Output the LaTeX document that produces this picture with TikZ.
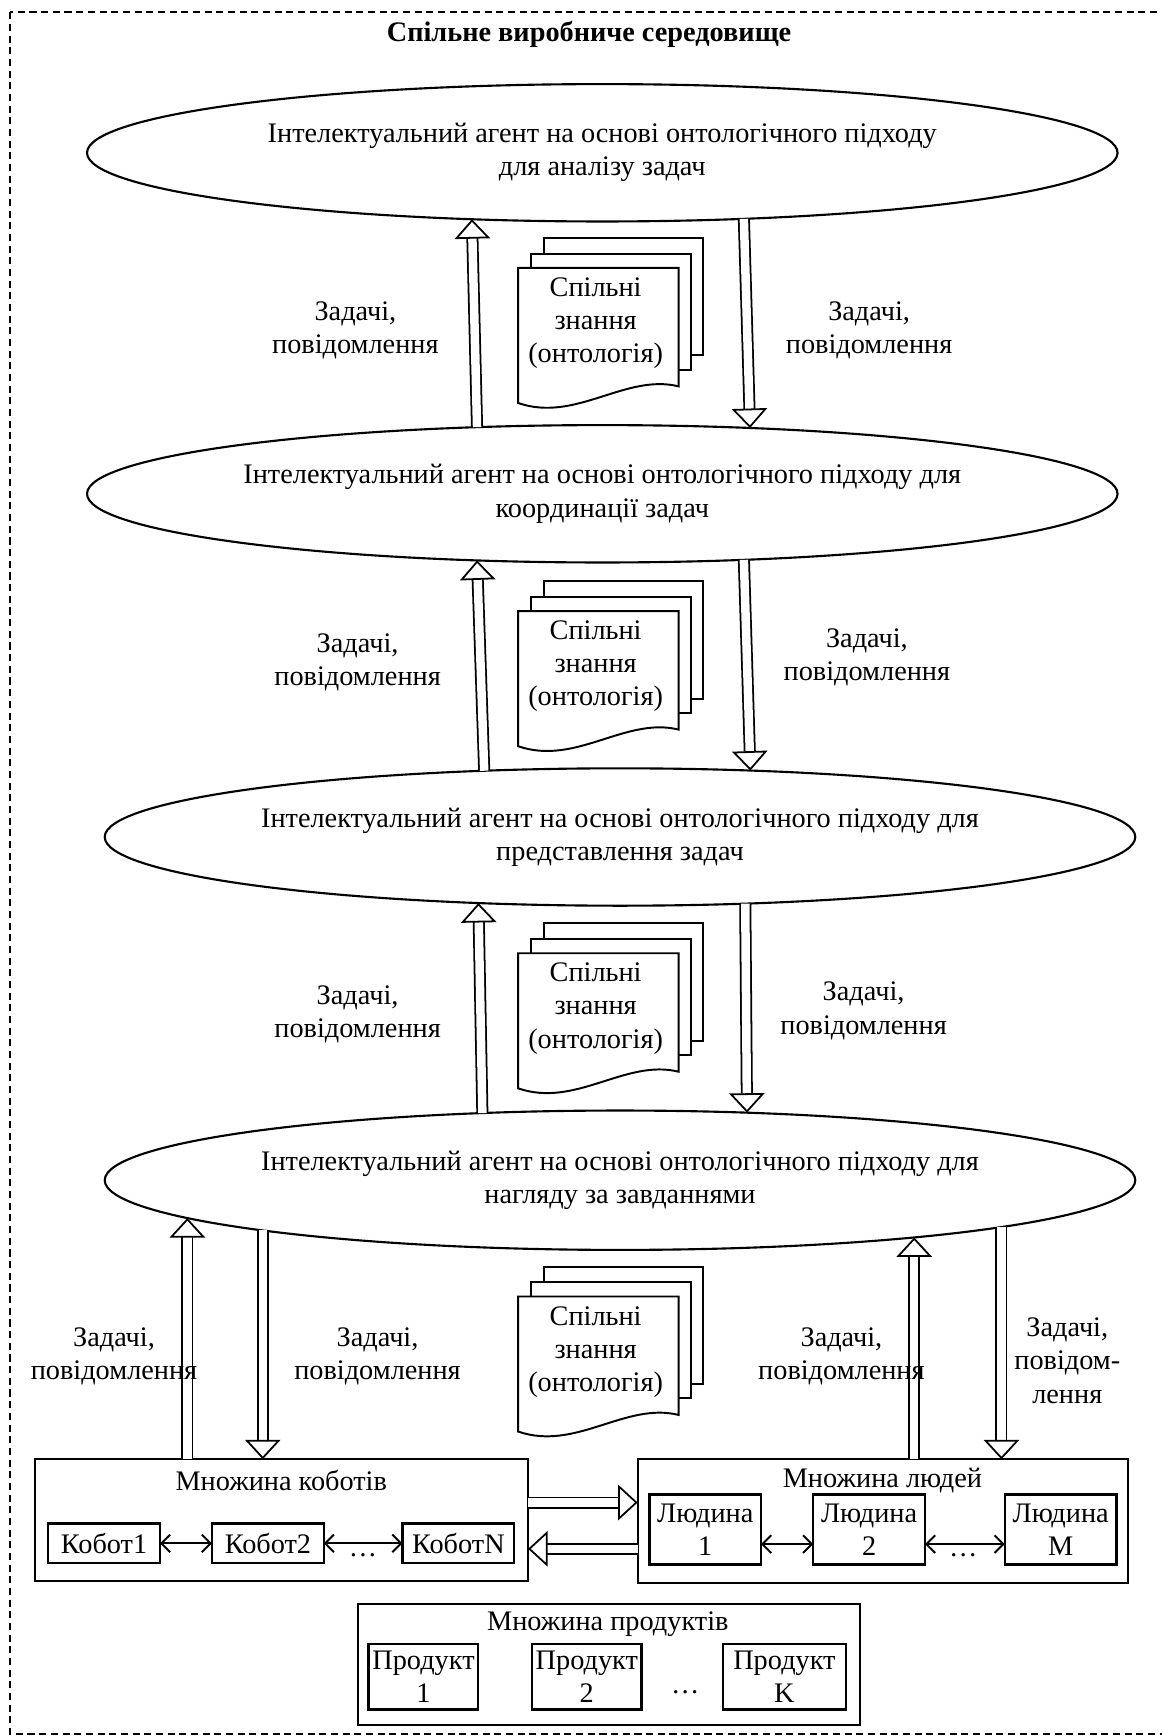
\documentclass[tikz,border=0pt]{standalone}
\usepackage{fontspec}
\setmainfont{Liberation Serif}
\usetikzlibrary{shapes.geometric,arrows.meta}

\begin{document}
\begin{tikzpicture}[x=0.022cm,y=-0.022cm,
  every node/.style={font=\fontsize{16}{18.7}\selectfont},
  agent/.style={draw,ellipse,line width=1.2pt,inner xsep=-1cm,inner ysep=0pt,outer sep=0pt,align=center,minimum width=20.48cm,minimum height=2.73cm},
  flow/.style={double,double distance=4.8pt,line width=1pt,-{Triangle[open,length=11pt,width=20pt,line width=1pt]}},
  link/.style={line width=1.1pt,{Straight Barb[length=5pt,width=10pt]}-{Straight Barb[length=5pt,width=10pt]}},
  group/.style={draw,line width=1.1pt,inner sep=0pt,outer sep=0pt},
  unit/.style={draw,line width=1.3pt,inner sep=0pt,outer sep=0pt,align=center,minimum width=2.22cm,minimum height=0.79cm},
  page/.style={draw,line width=1.1pt,fill=white},
  msg/.style={align=center}]
\useasboundingbox (0,0) rectangle (1049,1568);
\draw[dash pattern=on 4pt off 2.6pt,line width=0.9pt] (9,11) rectangle (1070,1566);
\node[font=\fontsize{16}{18.7}\selectfont\bfseries] (title) at (532,31) {Спільне виробниче середовище};

% agents
\node[agent] (agent1) at (544,138) {Інтелектуальний агент на основі онтологічного підходу\\для аналізу задач};
\node[agent] (agent2) at (544,446) {Інтелектуальний агент на основі онтологічного підходу для\\координації задач};
\node[agent] (agent3) at (560,756) {Інтелектуальний агент на основі онтологічного підходу для\\представлення задач};
\node[agent,minimum height=2.77cm] (agent4) at (560,1066) {Інтелектуальний агент на основі онтологічного підходу для\\нагляду за завданнями};

% shared knowledge
\foreach \t [count=\i] in {242,552,861,1171}{
  \draw[page] (491,\t-27) rectangle (635,\t+79);
  \draw[page] (480,\t-13) rectangle (624,\t+92);
  \draw[page] (468,\t) -- (613,\t) -- (613,\t+107) .. controls (565,\t+95) and (520,\t+140) .. (468,\t+122) -- cycle;
  \node[align=center] (know\i) at (538,\t+50) {Спільні\\знання\\(онтологія)};
}

\draw[flow] (agent2.152.6) -- (agent1.207.4);
\draw[flow] (agent1.335.6) -- (agent2.24.4);
\draw[flow] (agent3.154.8) -- (agent2.208.5);
\draw[flow] (agent2.335.6) -- (agent3.27.6);
\draw[flow] (agent4.154.5) -- (agent3.205.2);
\draw[flow] (agent3.332.4) -- (agent4.28.0);
\node[msg] (msg1a) at (321,298) {Задачі,\\повідомлення};
\node[msg] (msg1b) at (785,298) {Задачі,\\повідомлення};
\node[msg] (msg2a) at (323,598) {Задачі,\\повідомлення};
\node[msg] (msg2b) at (783,594) {Задачі,\\повідомлення};
\node[msg] (msg3a) at (323,916) {Задачі,\\повідомлення};
\node[msg] (msg3b) at (780,913) {Задачі,\\повідомлення};

% cobots
\node[group,minimum width=9.79cm,minimum height=2.42cm] (cobots) at (254.5,1373) {};
\node (cobotstitle) at (254,1337) {Множина коботів};
\node[unit] (cobot1) at (94,1394) {Кобот1};
\node[unit] (cobot2) at (242,1394) {Кобот2};
\node[unit] (cobotN) at (414,1394) {КоботN};
\draw[link] (cobot1) -- (cobot2);
\draw[link] (cobot2) -- (cobotN);
\node (dots1) at (328,1405) {\ldots};

% people
\node[group,minimum width=9.75cm,minimum height=2.46cm] (people) at (797.5,1374) {};
\node (peopletitle) at (797,1337) {Множина людей};
\node[unit,minimum height=1.39cm] (human1) at (637,1381.5) {Людина\\1};
\node[unit,minimum height=1.39cm] (human2) at (785,1381.5) {Людина\\2};
\node[unit,minimum height=1.39cm] (humanM) at (958,1381.5) {Людина\\M};
\draw[link] ([yshift=-0.29cm]human1.east) -- ([yshift=-0.29cm]human2.west);
\draw[link] ([yshift=-0.29cm]human2.east) -- ([yshift=-0.29cm]humanM.west);
\node (dots2) at (870,1405) {\ldots};

\coordinate (hr) at ([yshift=0.35cm]cobots.east);
\coordinate (hl) at ([yshift=-0.57cm]cobots.east);
\draw[flow] (hr) -- (hr -| people.west);
\draw[flow] (hl -| people.west) -- (hl);

\draw[flow] (agent4.185.8 |- cobots.north) -- (agent4.185.8);
\draw[flow] (agent4.188.8) -- (agent4.188.8 |- cobots.north);
\draw[flow] (agent4.349.9 |- people.north) -- (agent4.349.9);
\draw[flow] (agent4.353.2) -- (agent4.353.2 |- people.north);
\node[msg] (msg4a) at (103,1225) {Задачі,\\повідомлення};
\node[msg] (msg4b) at (341,1225) {Задачі,\\повідомлення};
\node[msg] (msg4c) at (760,1225) {Задачі,\\повідомлення};
\node[msg] (msg4d) at (964,1229) {Задачі,\\повідом-\\лення};

% products
\node[group,minimum width=9.98cm,minimum height=2.4cm] (products) at (549.75,1503.5) {};
\node (productstitle) at (549,1467) {Множина продуктів};
\node[unit,minimum width=2.18cm,minimum height=1.3cm] (product1) at (382.5,1514.5) {Продукт\\1};
\node[unit,minimum width=2.18cm,minimum height=1.3cm] (product2) at (530,1514.5) {Продукт\\2};
\node[unit,minimum width=2.44cm,minimum height=1.3cm] (productK) at (708.5,1514.5) {Продукт\\K};
\node (dots3) at (619,1528) {\ldots};
\end{tikzpicture}
\end{document}
